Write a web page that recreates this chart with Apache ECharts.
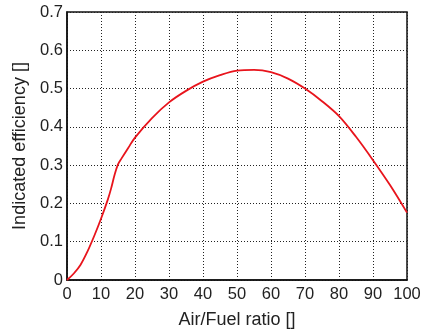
<!DOCTYPE html>
<html><head><meta charset="utf-8">
<script src="https://cdn.jsdelivr.net/npm/echarts@6/dist/echarts.min.js"></script>
<style>html,body{margin:0;padding:0;background:#fff}#c{width:425px;height:335px}</style>
</head><body><div id="c"></div>
<script>
const airFuel = [0, 2, 4, 6, 8, 10, 12, 13, 14, 15, 16, 18, 20, 25, 30, 35, 40, 45, 50, 55, 60, 65, 70, 75, 80, 85, 90, 95, 100];
const efficiency = [0, 0.017, 0.040, 0.074, 0.115, 0.16, 0.21, 0.24, 0.275, 0.302, 0.317, 0.345, 0.372, 0.423, 0.464, 0.494, 0.518, 0.535, 0.547, 0.549, 0.543, 0.526, 0.500, 0.467, 0.428, 0.374, 0.313, 0.248, 0.176];
const xTicks = [0, 100, 10];
const yTicks = [0, 0.7, 0.1];

const chart = echarts.init(document.getElementById('c'));
const font = 'Liberation Sans, Arial, sans-serif';
const tick = {color: '#222', fontFamily: font, fontSize: 16.5};
const title = {color: '#222', fontFamily: font, fontSize: 18};
chart.setOption({
  animation: false,
  grid: {left: 67, right: 18, top: 12, bottom: 55, show: true, borderColor: '#111', borderWidth: 1.5, backgroundColor: 'transparent'},
  xAxis: {
    type: 'value', min: xTicks[0], max: xTicks[1], interval: xTicks[2],
    name: 'Air/Fuel ratio []', nameLocation: 'middle', nameGap: 40,
    nameTextStyle: Object.assign({verticalAlign: 'middle'}, title),
    axisLine: {show: true, lineStyle: {color: '#111', width: 1.5}},
    axisTick: {show: false},
    axisLabel: Object.assign({margin: 6}, tick),
    splitLine: {show: true, lineStyle: {color: '#222', type: [1, 2], width: 1}}
  },
  yAxis: {
    type: 'value', min: yTicks[0], max: yTicks[1], interval: yTicks[2],
    name: 'Indicated efficiency []', nameLocation: 'middle', nameGap: 46,
    nameTextStyle: Object.assign({verticalAlign: 'middle'}, title),
    axisLine: {show: true, lineStyle: {color: '#111', width: 1.5}},
    axisTick: {show: false},
    axisLabel: Object.assign({margin: 4, formatter: v => v === 0 ? '0' : v.toFixed(1)}, tick),
    splitLine: {show: true, lineStyle: {color: '#222', type: [1, 2], width: 1}}
  },
  series: [{
    type: 'line', showSymbol: false, smooth: 0.35,
    data: airFuel.map((x, i) => [x, efficiency[i]]),
    lineStyle: {color: '#e8141c', width: 1.8}
  }]
});
</script></body></html>
